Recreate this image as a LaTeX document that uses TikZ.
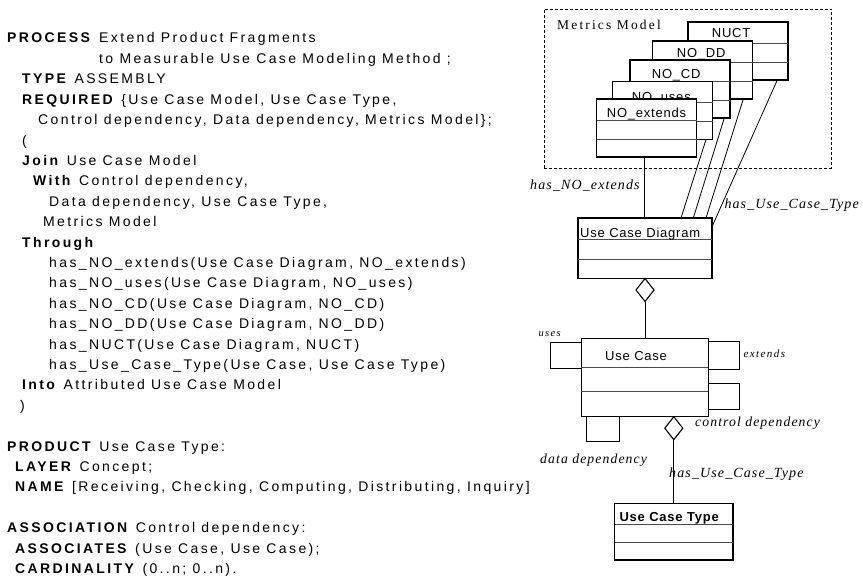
\documentclass[tikz,border=0pt]{standalone}
\usepackage{fontspec}
\setmainfont{Liberation Sans}
\newfontfamily\codefont[LetterSpace=17]{Liberation Sans}
\newfontfamily\boxfont[LetterSpace=6]{Liberation Sans}
\newfontfamily\notefont[LetterSpace=8]{Liberation Serif}
\newfontfamily\smallnotefont[LetterSpace=13]{Liberation Serif}
\newfontfamily\titlefont[LetterSpace=16]{Liberation Serif}
\usetikzlibrary{calc,shapes.geometric}

\tikzset{
  code/.style={anchor=base west, inner sep=0pt, font=\codefont\fontsize{14}{17}\selectfont},
  boxlbl/.style={anchor=base west, inner sep=0pt, font=\boxfont\fontsize{13}{15}\selectfont},
  note/.style={anchor=base west, inner sep=0pt, font=\notefont\itshape\fontsize{14}{16}\selectfont},
  midnote/.style={anchor=base west, inner sep=0pt, font=\notefont\itshape\fontsize{13.7}{16}\selectfont},
  smallnote/.style={anchor=base west, inner sep=0pt, font=\smallnotefont\itshape\fontsize{11}{13}\selectfont},
  titlenote/.style={anchor=base west, inner sep=0pt, font=\titlefont\fontsize{13.5}{15}\selectfont},
  clsframe/.style={draw, line width=1.3pt, fill=white, inner sep=0pt, outer sep=0pt},
  divider/.style={line width=0.9pt, black!70},
  conn/.style={line width=0.8pt},
  loopline/.style={line width=1pt},
  aggr/.style={diamond, draw, fill=white, line width=1.1pt, inner sep=0pt, outer sep=0pt,
               minimum width=18pt, minimum height=23pt},
  package/.style={draw, dashed, dash pattern=on 3pt off 2pt, line width=0.8pt,
                  inner sep=0pt, outer sep=0pt},
}

% class box: name, north-west corner, width, height, first and second divider offsets
\newcommand\clsbox[6]{%
  \node[clsframe, minimum width=#3, minimum height=#4, anchor=north west] (#1) at #2 {};
  \draw[divider] ($(#1.north west)+(0,#5)$) -- ($(#1.north east)+(0,#5)$);
  \draw[divider] ($(#1.north west)+(0,#6)$) -- ($(#1.north east)+(0,#6)$);
}

\begin{document}
\begin{tikzpicture}[x=1pt,y=-1pt]
\useasboundingbox (0,0) rectangle (863,586);

% ---------------- process description ----------------
\def\ls{20.4}
\node[code] (t0)  at (7,  43+0*\ls)  {\bfseries PROCESS};
\node[code] (t0b) at (99, 43+0*\ls)  {Extend Product Fragments};
\node[code] (t1)  at (99, 43+1*\ls)  {to Measurable Use Case Modeling Method ;};
\node[code] (t2)  at (22, 43+2*\ls)  {\textbf{TYPE} ASSEMBLY};
\node[code] (t3)  at (22, 43+3*\ls)  {\textbf{REQUIRED} \{Use Case Model, Use Case Type,};
\node[code] (t4)  at (38, 43+4*\ls)  {Control dependency, Data dependency, Metrics Model\};};
\node[code] (t5)  at (22, 43+5*\ls)  {(};
\node[code] (t6)  at (22, 43+6*\ls)  {\textbf{Join} Use Case Model};
\node[code] (t7)  at (33, 43+7*\ls)  {\textbf{With} Control dependency,};
\node[code] (t8)  at (49, 43+8*\ls)  {Data dependency, Use Case Type,};
\node[code] (t9)  at (43, 43+9*\ls)  {Metrics Model};
\node[code] (t10) at (22, 43+10*\ls) {\bfseries Through};
\node[code] (t11) at (49, 43+11*\ls) {has\_NO\_extends(Use Case Diagram, NO\_extends)};
\node[code] (t12) at (49, 43+12*\ls) {has\_NO\_uses(Use Case Diagram, NO\_uses)};
\node[code] (t13) at (49, 43+13*\ls) {has\_NO\_CD(Use Case Diagram, NO\_CD)};
\node[code] (t14) at (49, 43+14*\ls) {has\_NO\_DD(Use Case Diagram, NO\_DD)};
\node[code] (t15) at (49, 43+15*\ls) {has\_NUCT(Use Case Diagram, NUCT)};
\node[code] (t16) at (49, 43+16*\ls) {has\_Use\_Case\_Type(Use Case, Use Case Type)};
\node[code] (t17) at (22, 43+17*\ls) {\textbf{Into} Attributed Use Case Model};
\node[code] (t18) at (20, 43+18*\ls) {)};
\node[code] (t20) at (7,  43+20*\ls) {\textbf{PRODUCT} Use Case Type:};
\node[code] (t21) at (15, 43+21*\ls) {\textbf{LAYER} Concept;};
\node[code] (t22) at (15, 43+22*\ls) {\textbf{NAME} [Receiving, Checking, Computing, Distributing, Inquiry]};
\node[code] (t24) at (7,  43+24*\ls) {\textbf{ASSOCIATION} Control dependency:};
\node[code] (t25) at (15, 43+25*\ls) {\textbf{ASSOCIATES} (Use Case, Use Case);};
\node[code] (t26) at (15, 43+26*\ls) {\textbf{CARDINALITY} (0..n; 0..n).};

% ---------------- metrics package ----------------
\node[package, minimum width=287.4pt, minimum height=159pt, anchor=north west] (metrics) at (544.3,9) {};
\node[titlenote] (metricslbl) at (557,29.3) {Metrics Model};

% metric classes, back to front
\clsbox{nuct}{(688,22)}{100pt}{58pt}{21}{40}
\node[boxlbl] (nuctlbl) at ($(nuct.north west)+(23.7,15.3)$) {NUCT};
\clsbox{nodd}{(652.5,41)}{100pt}{58pt}{21}{40}
\node[boxlbl] (noddlbl) at ($(nodd.north west)+(24.2,16.3)$) {NO\_DD};
\clsbox{nocd}{(630,60)}{100pt}{58pt}{21}{40}
\node[boxlbl] (nocdlbl) at ($(nocd.north west)+(21.7,18.3)$) {NO\_CD};
\clsbox{nouses}{(612.5,81.5)}{100pt}{58pt}{21}{40}
\node[boxlbl] (nouseslbl) at ($(nouses.north west)+(19.2,20.5)$) {NO\_uses};
\clsbox{noext}{(596.5,99)}{100pt}{58pt}{21}{40}
\node[boxlbl] (noextlbl) at ($(noext.north west)+(10.2,18.3)$) {NO\_extends};

% ---------------- use case classes ----------------
\clsbox{ucd}{(578,218)}{134pt}{60.5pt}{21.5}{41.3}
\node[boxlbl] (ucdlbl) at ($(ucd.north west)+(2,19.3)$) {Use Case Diagram};

\clsbox{uc}{(581.3,338.3)}{127pt}{78.4pt}{29.4}{53.4}
\node[boxlbl] (uclbl) at ($(uc.north west)+(23.7,21.7)$) {Use Case};

\clsbox{uct}{(614.5,503.3)}{118.4pt}{56.7pt}{21}{39}
\node[boxlbl, font=\boxfont\bfseries\fontsize{13}{15}\selectfont] (uctlbl) at ($(uct.north west)+(4.8,18.4)$) {Use Case Type};

% metric links
\draw[conn] ($(noext.south west)+(47.5,0)$) -- ($(ucd.north west)+(66,0)$);
\draw[conn] ($(nouses.south west)+(93.5,0)$) -- ($(ucd.north west)+(103,0)$);
\draw[conn] ($(nocd.south west)+(94.3,0)$) -- ($(ucd.north west)+(115.3,0)$);
\draw[conn] ($(nodd.south west)+(90.8,0)$) -- ($(ucd.north west)+(128,0)$);
\draw[conn] ($(nuct.south west)+(89.3,0)$) -- ($(ucd.north east)+(0,8.7)$);

% aggregation: diagram contains use cases
\node[aggr, anchor=north] (dia1) at (ucd.south) {};
\draw[conn] (dia1.south) -- (dia1.south |- uc.north);

% aggregation: use case to its type
\node[aggr, anchor=north] (dia2) at ($(uc.south west)+(92.5,0)$) {};
\draw[conn] (dia2.south) -- (dia2.south |- uct.north);

% self associations of Use Case
\draw[loopline] ($(uc.north west)+(0,4.4)$) -- ++(-31,0) -- ++(0,25.6) -- ++(31,0);
\draw[loopline] ($(uc.north east)+(0,3.4)$) -- ++(31.6,0) -- ++(0,27.6) -- ++(-31.6,0);
\draw[loopline] ($(uc.north east)+(0,45)$) -- ++(31.6,0) -- ++(0,26) -- ++(-31.6,0);
\draw[loopline] ($(uc.south west)+(5.4,0)$) -- ++(0,25) -- ++(32.3,0) -- ++(0,-25);

% association names
\node[note] (lblext) at (530,189.3) {has\_NO\_extends};
\node[note] (lbltype1) at (724.3,208.3) {has\_Use\_Case\_Type};
\node[note] (lbltype2) at (669,477.7) {has\_Use\_Case\_Type};
\node[smallnote, font=\smallnotefont\itshape\fontsize{10.5}{12}\selectfont] (lbluses) at (538.3,336) {uses};
\node[smallnote] (lblextends) at (743.3,357.5) {extends};
\node[midnote] (lblcd) at (695,426.7) {control dependency};
\node[midnote] (lbldd) at (540,463.3) {data dependency};
\end{tikzpicture}
\end{document}
